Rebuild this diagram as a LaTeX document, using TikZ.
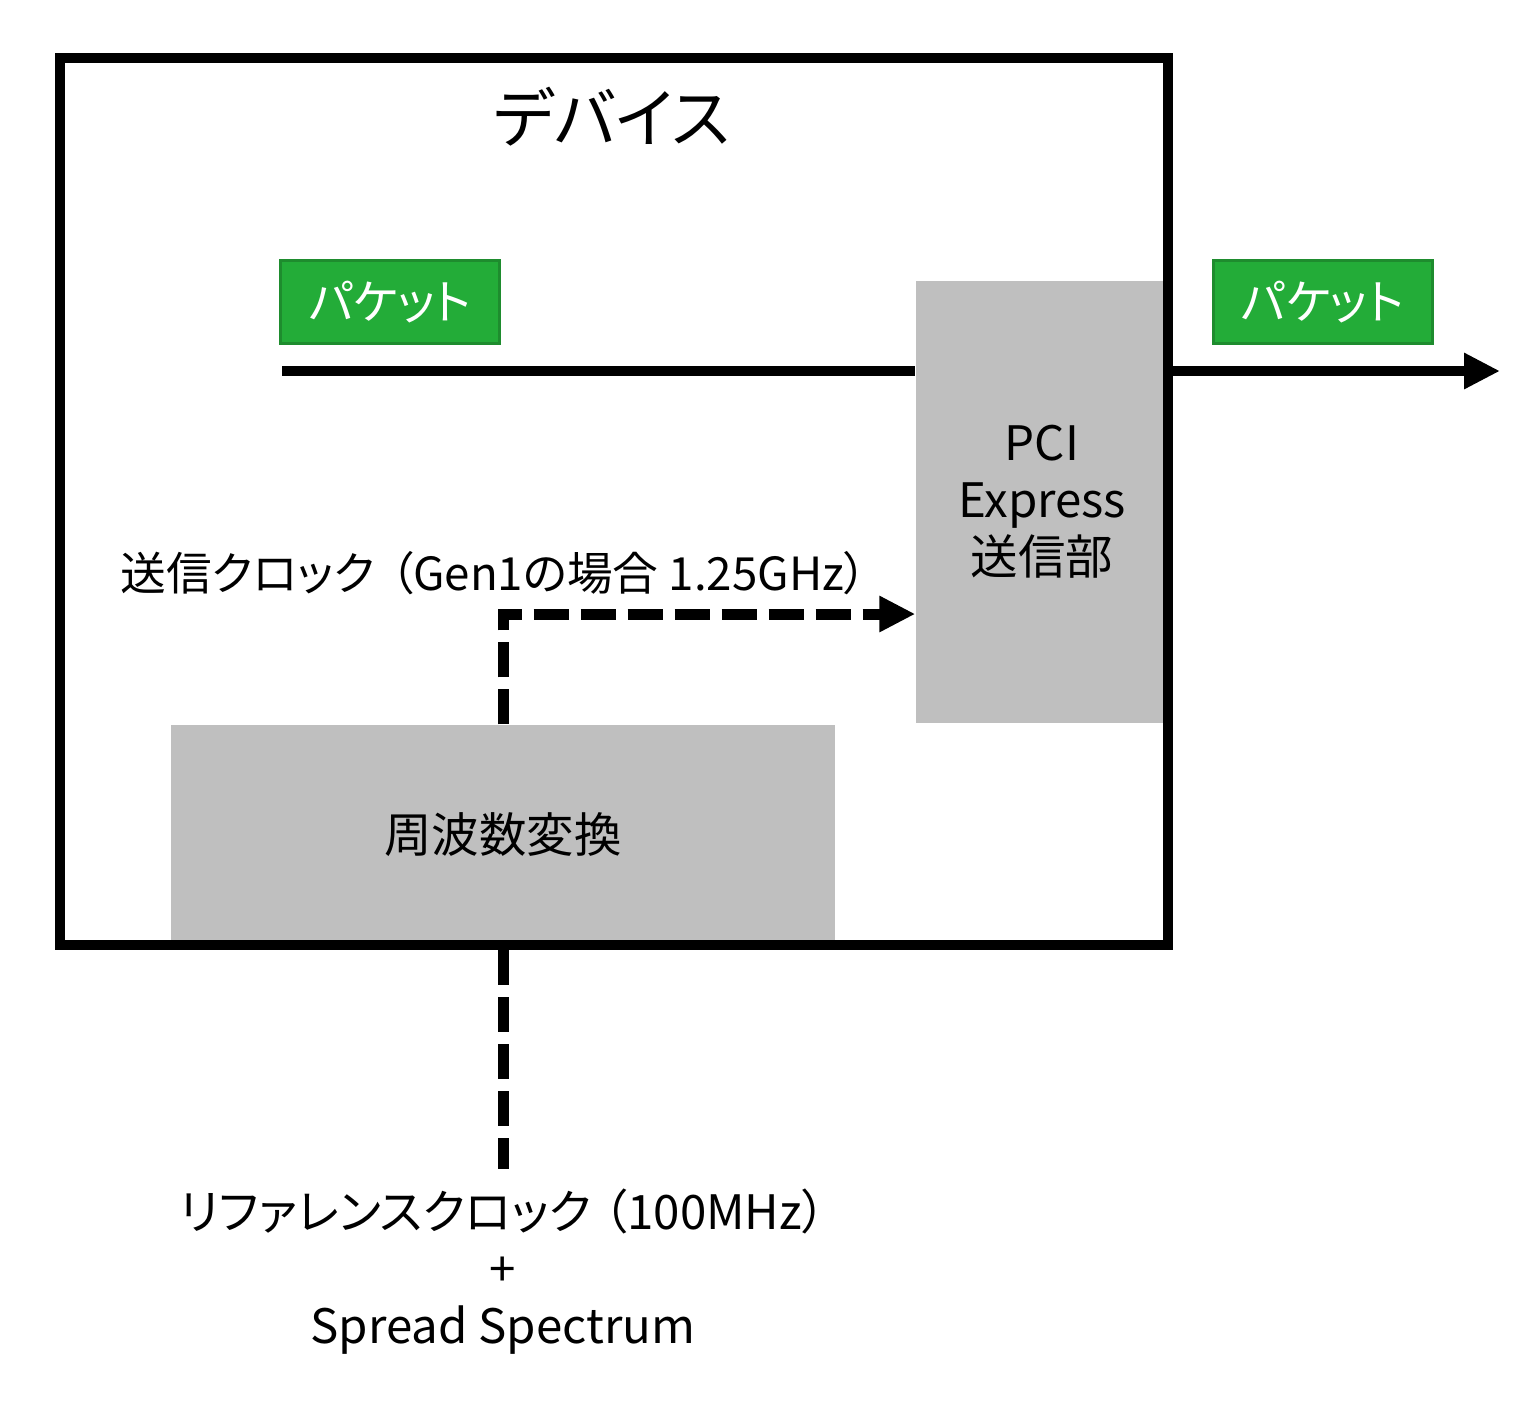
\documentclass[tikz,border=0pt]{standalone}
\usepackage{fontspec}
\setmainfont[RawFeature=+palt]{Noto Sans CJK JP}
\usetikzlibrary{arrows.meta, positioning}

\definecolor{pktgreen}{HTML}{23AC38}
\definecolor{pktedge}{HTML}{1E8C2E}
\definecolor{blockgray}{HTML}{BFBFBF}

\tikzset{
    packet/.style={draw=pktedge, line width=0.03cm, fill=pktgreen, text=white,
        minimum width=2.19cm, minimum height=0.83cm, inner sep=0pt,
        font=\fontsize{13.5}{16}\selectfont},
    block/.style={fill=blockgray, inner sep=0pt, align=center,
        font=\fontsize{13.5}{16.2}\selectfont},
    dataline/.style={line width=0.1cm},
    clkline/.style={line width=0.11cm, dash pattern=on 0.35cm off 0.12cm},
    tip/.style={-{Triangle[length=0.36cm,width=0.34cm]}}
}

\begin{document}
\begin{tikzpicture}
    \useasboundingbox (0,0) rectangle (15.36,-14.05);

        % Blocks inside the device
        \node[block, minimum width=2.52cm, minimum height=4.42cm] (pci) at (10.42,-5.02)
            {PCI\\Express\\送信部};
        \node[block, minimum width=6.64cm, minimum height=2.20cm] (freq) at (5.03,-8.35)
            {周波数変換};

        % Device frame
        \node[draw, line width=0.1cm, minimum width=11.08cm, minimum height=8.87cm,
            inner sep=0pt] (device) at (6.14,-5.015) {};
        \node[font=\fontsize{18.5}{22}\selectfont] (title) at (6.12,-1.17) {デバイス};

        % Packets
        \node[packet] (pktin) at (3.90,-3.02) {パケット};
        \node[packet] (pktout) at (13.225,-3.02) {パケット};

        \coordinate (src) at (2.82,-3.71);
        \coordinate (dst) at (15.0,-3.71);
        \draw[dataline] (src) -- (src -| pci.west);
        \draw[dataline, tip] (src -| device.east) -- (dst);

        % Transmit clock
        \coordinate (tap) at (5.03,-6.14);
        \node[anchor=west, font=\fontsize{13}{16}\selectfont] (txclk) at (1.08,-5.73)
            {送信クロック\hspace{0.35em}（Gen1の場合 1.25GHz）};
        \draw[clkline, tip] (freq.north) -- (tap) -- (tap -| pci.west);

        % Reference clock
        \node[align=center, inner sep=0pt, font=\fontsize{13.5}{16.2}\selectfont]
            (refclk) at (5.03,-12.72)
            {リファレンスクロック\hspace{0.25em}（100MHz）\\+\\Spread Spectrum};
        \draw[clkline] (freq.south |- device.south) -- ([yshift=0.2cm]refclk.north);

    \end{tikzpicture}
\end{document}
